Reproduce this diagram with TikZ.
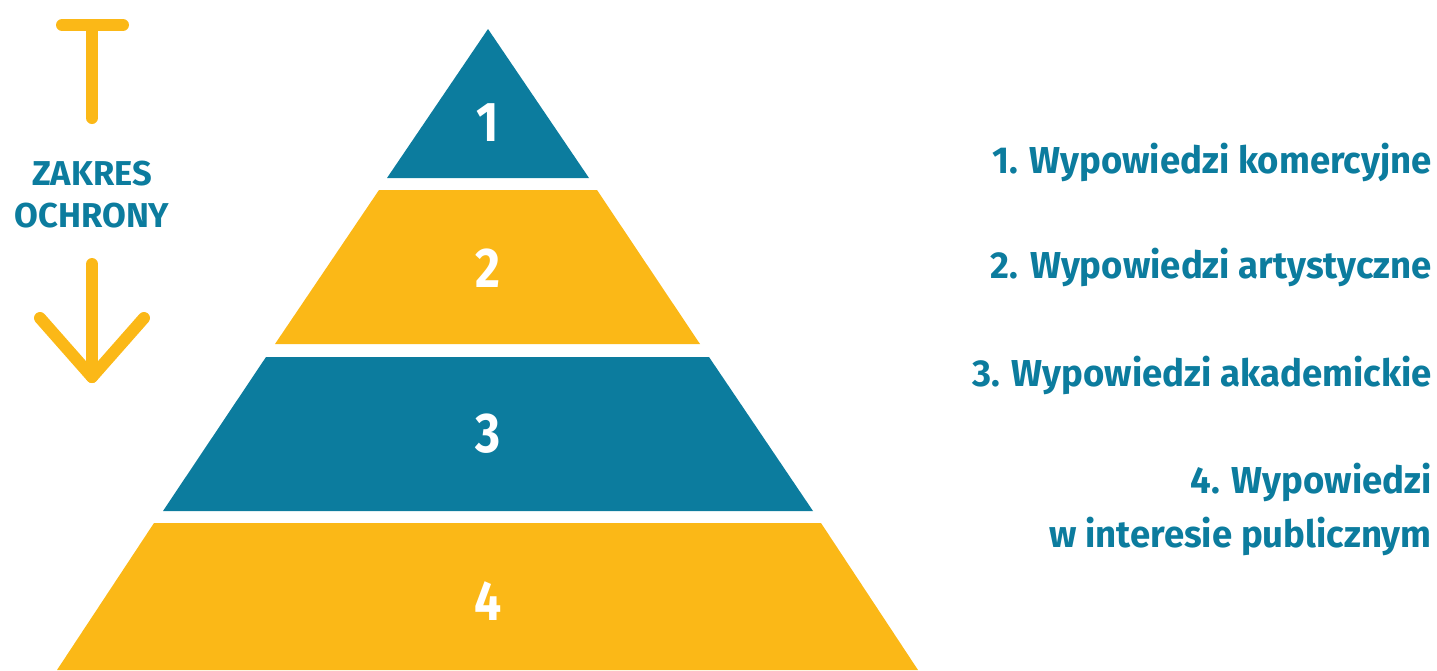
\documentclass[tikz,border=0pt]{standalone}
\usepackage{fontspec}
\setmainfont{Fira Sans}
\newfontfamily\numfont[FakeStretch=0.86]{Fira Sans}
\newfontfamily\legendfont[FakeStretch=0.975]{Fira Sans}
\definecolor{pyrblue}{HTML}{0C7C9E}
\definecolor{pyryellow}{HTML}{FBB817}
\begin{document}
\begin{tikzpicture}[x=1pt,y=-1pt,
  tier/.style={draw=none},
  tiernum/.style={text=white, font=\numfont\fontsize{56}{60}\selectfont\bfseries, inner sep=0pt},
  label/.style={text=pyrblue, font=\legendfont\fontsize{37.5}{45}\selectfont\bfseries, inner sep=0pt, anchor=base east},
  scopelabel/.style={text=pyrblue, font=\fontsize{34.5}{40}\selectfont\bfseries, inner sep=0pt, anchor=base},
  marker/.style={draw=pyryellow, line width=12pt, line cap=round, line join=round}]
\useasboundingbox (0,0) rectangle (1437,670);

% pyramid tiers
\fill[tier, pyrblue]   (488,29) -- (589,178) -- (387,178) -- cycle;
\fill[tier, pyryellow] (379,190) -- (597,190) -- (700,344) -- (275,344) -- cycle;
\fill[tier, pyrblue]   (266,357) -- (709,357) -- (813,511) -- (163,511) -- cycle;
\fill[tier, pyryellow] (154,523) -- (821,523) -- (918,670) -- (57,670) -- cycle;

% tier numbers
\node[tiernum] (n1) at (488,123) {1};
\node[tiernum] (n2) at (488,268) {2};
\node[tiernum] (n3) at (488,434) {3};
\node[tiernum] (n4) at (488,601) {4};

% legend
\node[label] (l1) at (1432,173) {1. Wypowiedzi komercyjne};
\node[label] (l2) at (1432,278) {2. Wypowiedzi artystyczne};
\node[label] (l3) at (1432,386) {3. Wypowiedzi akademickie};
\node[label] (l4a) at (1432,493) {4. Wypowiedzi};
\node[label] (l4b) at (1432,547) {w interesie publicznym};

% scope-of-protection marker
\node[scopelabel] (z1) at (92,185) {ZAKRES};
\node[scopelabel] (z2) at (92,227) {OCHRONY};
\coordinate (barL) at (62,25);
\coordinate (barR) at (123,25);
\coordinate (stemTop) at (92,25);
\coordinate (stemBot) at (92,118);
\draw[marker] (barL) -- (barR);
\draw[marker] (stemTop) -- (stemBot);
\coordinate (shaftTop) at (92,264);
\coordinate (tip) at (92,377);
\coordinate (armL) at (40,318);
\coordinate (armR) at (144,318);
\draw[marker] (shaftTop) -- (tip);
\draw[marker] (armL) -- (tip) -- (armR);
\end{tikzpicture}
\end{document}
